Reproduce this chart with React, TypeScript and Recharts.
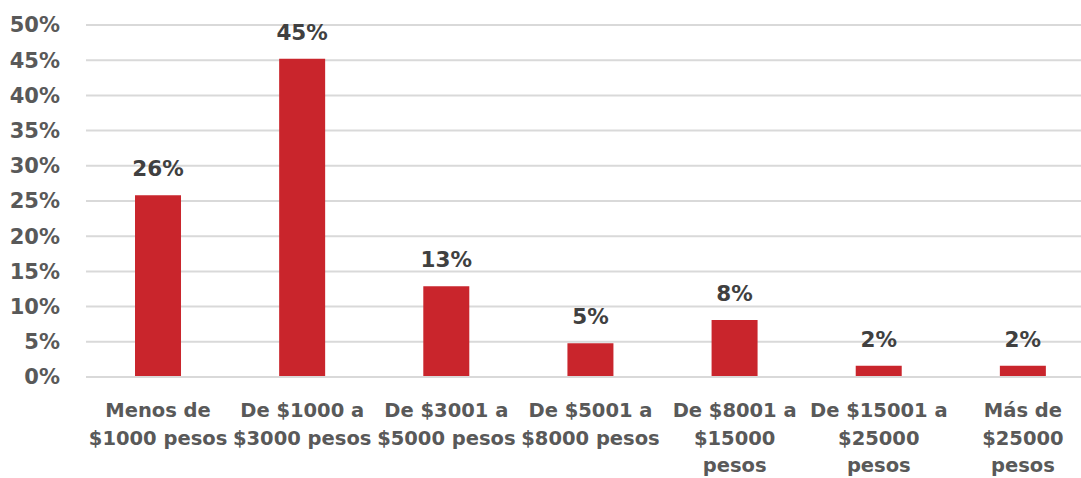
import { BarChart, Bar, XAxis, YAxis, CartesianGrid, LabelList } from "recharts";

const categories = [
  "Menos de\n$1000 pesos",
  "De $1000 a\n$3000 pesos",
  "De $3001 a\n$5000 pesos",
  "De $5001 a\n$8000 pesos",
  "De $8001 a\n$15000\npesos",
  "De $15001 a\n$25000\npesos",
  "Más de\n$25000\npesos",
];
const shares = [25.8, 45.2, 12.9, 4.8, 8.1, 1.6, 1.6];
const yTicks = [0, 5, 10, 15, 20, 25, 30, 35, 40, 45, 50];

const data = categories.map((c, i) => ({ name: c, value: shares[i] }));

const FONT = "'DejaVu Sans', sans-serif";

function CategoryTick(props: any) {
  const { x, y, payload } = props;
  const lines = String(payload.value).split("\n");
  return (
    <text x={x} y={y + 32} textAnchor="middle" fill="#595959" fontFamily={FONT} fontWeight="bold" fontSize={19.5}>
      {lines.map((l, i) => (
        <tspan key={i} x={x} dy={i === 0 ? 0 : 27.5}>{l}</tspan>
      ))}
    </text>
  );
}

export default function App() {
  // the plot area in the original runs past the right edge, so draw wider and clip
  return (
    <div style={{ position: "absolute", left: 0, top: 0, width: 1081, height: 478, overflow: "hidden", background: "#fff" }}>
      <BarChart width={1095} height={478} data={data} margin={{ top: 25, right: 0, left: 0, bottom: 0 }} barCategoryGap="34%">
        <CartesianGrid vertical={false} stroke="#d9d9d9" strokeWidth={2} />
        <XAxis dataKey="name" interval={0} tickLine={false} axisLine={{ stroke: "#d9d9d9", strokeWidth: 2 }} tick={<CategoryTick />} height={101} />
        <YAxis domain={[0, 50]} ticks={yTicks} interval={0} tickFormatter={(v: number) => `${v}%`} axisLine={false} tickLine={false} width={86}
          tick={{ fill: "#595959", fontFamily: FONT, fontWeight: "bold", fontSize: 21 }} tickMargin={20} />
        <Bar dataKey="value" fill="#c9252c" isAnimationActive={false}>
          <LabelList dataKey="value" position="top" offset={19} formatter={(v: any) => `${Math.round(Number(v))}%`}
            fill="#404040" fontFamily={FONT} fontWeight="bold" fontSize={21.5} />
        </Bar>
      </BarChart>
    </div>
  );
}
